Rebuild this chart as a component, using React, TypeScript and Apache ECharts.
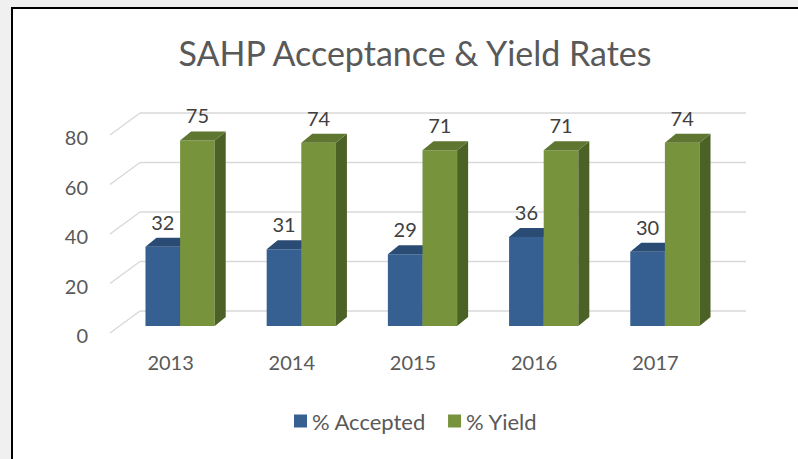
import React, { useEffect, useRef } from "react";
import * as echarts from "echarts";

const categories = ["2013", "2014", "2015", "2016", "2017"];
const accepted = [32, 31, 29, 36, 30];
const yieldRate = [75, 74, 71, 71, 74];
const yTicks = [0, 20, 40, 60, 80];

const FONT = "Lato";
const TXT = "#595959";
const BAR_DEPTH = { dx: 11, dy: 9 };
const BACK = { dx: 20.5, dy: -15 };
const FRONT = { dx: -9.5, dy: 7 };

function barRenderer(side: number, front: string, topC: string, sideC: string) {
  return (params: any, api: any) => {
    const idx = api.value(0);
    const val = api.value(1);
    const base = api.coord([idx, 0]);
    const top = api.coord([idx, val]);
    const band = api.size([1, 0])[0];
    const bw = band / 3.5;
    const x0 = side < 0 ? base[0] - bw : base[0];
    const x1 = x0 + bw;
    const yb = base[1];
    const yt = top[1];
    const { dx, dy } = BAR_DEPTH;
    return {
      type: "group",
      children: [
        { type: "polygon", shape: { points: [[x0, yb], [x1, yb], [x1, yt], [x0, yt]] }, style: { fill: front } },
        { type: "polygon", shape: { points: [[x1, yb], [x1 + dx, yb - dy], [x1 + dx, yt - dy], [x1, yt]] }, style: { fill: sideC } },
        { type: "polygon", shape: { points: [[x0, yt], [x1, yt], [x1 + dx, yt - dy], [x0 + dx, yt - dy]] }, style: { fill: topC } },
        {
          type: "text",
          style: {
            text: String(val),
            x: (x0 + x1) / 2,
            y: yt - 25,
            align: "center",
            verticalAlign: "middle",
            fill: "#404040",
            fontSize: 20,
            fontFamily: FONT,
          },
        },
      ],
    };
  };
}

function wallRenderer(params: any, api: any) {
  const v = api.value(1);
  const p = api.coord([0, v]);
  const band = api.size([1, 0])[0];
  const left = p[0] - band / 2;
  const right = left + band * categories.length;
  const y = p[1];
  const ls = { stroke: "#d9d9d9", lineWidth: 1.5 };
  return {
    type: "group",
    children: [
      { type: "line", shape: { x1: left + BACK.dx, y1: y + BACK.dy, x2: right + BACK.dx, y2: y + BACK.dy }, style: ls },
      { type: "line", shape: { x1: left + FRONT.dx, y1: y + FRONT.dy, x2: left + BACK.dx, y2: y + BACK.dy }, style: ls },
    ],
  };
}

export default function App() {
  const ref = useRef<HTMLDivElement>(null);
  useEffect(() => {
    document.body.style.margin = "0";
    const chart = echarts.init(ref.current!, null, { renderer: "svg" });
    chart.setOption({
      animation: false,
      backgroundColor: "#f0f0f0",
      graphic: [
        {
          type: "rect",
          z: -10,
          shape: { x: 12, y: 8, width: 900, height: 600 },
          style: { fill: "#ffffff", stroke: "#000000", lineWidth: 2 },
        },
      ],
      title: {
        text: "SAHP Acceptance & Yield Rates",
        left: 410,
        textAlign: "center",
        top: 30,
        textStyle: { fontFamily: FONT, fontSize: 34, fontWeight: "normal", color: TXT },
      },
      legend: {
        data: ["% Accepted", "% Yield"],
        left: 289,
        top: 405,
        icon: "rect",
        itemWidth: 13,
        itemHeight: 13,
        itemGap: 22,
        itemStyle: { borderWidth: 0 },
        textStyle: { fontFamily: FONT, fontSize: 22, color: TXT },
      },
      grid: [
        { left: 119.5, top: 128, width: 606, height: 198 },
        { left: 110, top: 137, width: 606, height: 198 },
      ],
      xAxis: [
        { type: "category", data: categories, gridIndex: 0, show: false },
        {
          type: "category",
          data: categories,
          gridIndex: 1,
          axisLine: { show: false },
          axisTick: { show: false },
          axisLabel: { margin: 17, fontFamily: FONT, fontSize: 20, color: TXT },
        },
      ],
      yAxis: [
        { type: "value", min: 0, max: 80, interval: 20, gridIndex: 0, show: false },
        {
          type: "value",
          min: 0,
          max: 80,
          interval: 20,
          gridIndex: 1,
          axisLine: { show: false },
          axisTick: { show: false },
          splitLine: { show: false },
          axisLabel: { margin: 22, fontFamily: FONT, fontSize: 20, color: TXT },
        },
      ],
      series: [
        {
          type: "custom",
          name: "walls",
          silent: true,
          z: 1,
          xAxisIndex: 0,
          yAxisIndex: 0,
          renderItem: wallRenderer,
          encode: { x: 0, y: 1 },
          data: yTicks.map((v) => [0, v]),
        },
        {
          type: "custom",
          name: "% Accepted",
          z: 2,
          xAxisIndex: 0,
          yAxisIndex: 0,
          itemStyle: { color: "#376092" },
          renderItem: barRenderer(-1, "#376092", "#2a4b73", "#213a5a"),
          encode: { x: 0, y: 1 },
          data: accepted.map((v, i) => [i, v]),
        },
        {
          type: "custom",
          name: "% Yield",
          z: 3,
          xAxisIndex: 0,
          yAxisIndex: 0,
          itemStyle: { color: "#77933c" },
          renderItem: barRenderer(1, "#77933c", "#5e7630", "#4c6126"),
          encode: { x: 0, y: 1 },
          data: yieldRate.map((v, i) => [i, v]),
        },
      ],
    });
    return () => chart.dispose();
  }, []);
  return <div ref={ref} style={{ width: 798, height: 459 }} />;
}
